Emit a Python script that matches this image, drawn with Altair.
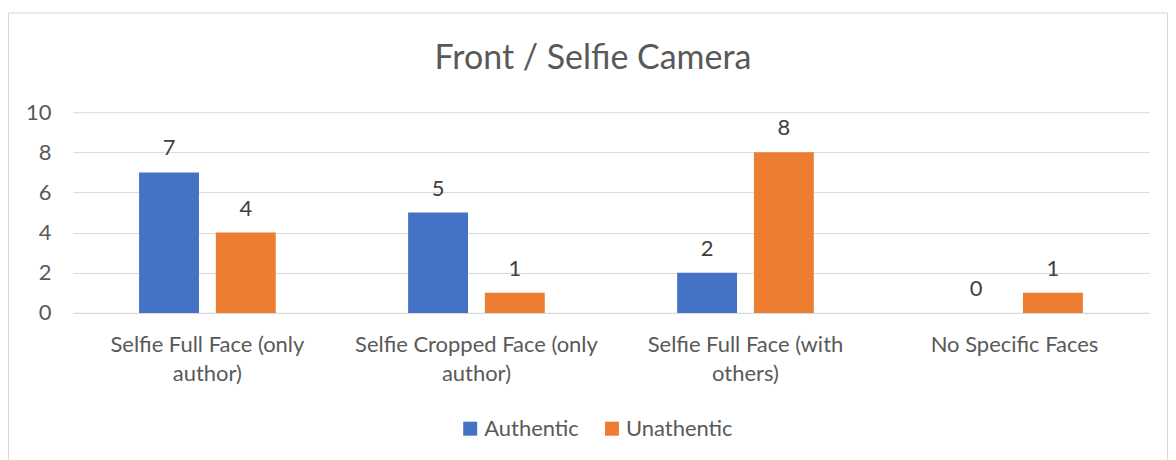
import altair as alt
import pandas as pd

categories = [
    "Selfie Full Face (only author)",
    "Selfie Cropped Face (only author)",
    "Selfie Full Face (with others)",
    "No Specific Faces",
]
label_lines = [
    ["Selfie Full Face (only", "author)"],
    ["Selfie Cropped Face (only", "author)"],
    ["Selfie Full Face (with", "others)"],
    ["No Specific Faces"],
]
series = ["Authentic", "Unathentic"]
authentic = [7, 5, 2, 0]
unathentic = [4, 1, 8, 1]
colors = ["#4472C4", "#ED7D31"]
y_ticks = [0, 2, 4, 6, 8, 10]

rows = []
for c, a, u in zip(categories, authentic, unathentic):
    rows.append({"category": c, "series": series[0], "value": a})
    rows.append({"category": c, "series": series[1], "value": u})
df = pd.DataFrame(rows)

# multi-line label expression
expr = "''"
for c, lines in reversed(list(zip(categories, label_lines))):
    arr = "[" + ",".join("'" + l + "'" for l in lines) + "]"
    expr = f"datum.value == '{c}' ? {arr} : ({expr})"

FONT = "Lato"
TXT = "#595959"

x_enc = alt.X(
    "category:N",
    sort=categories,
    title=None,
    scale=alt.Scale(paddingInner=0.492, paddingOuter=0.246),
    axis=alt.Axis(
        labelExpr=expr,
        labelAngle=0,
        labelFont=FONT,
        labelFontSize=22,
        labelColor=TXT,
        labelLineHeight=29,
        labelPadding=22,
        ticks=False,
        domainColor="#D9D9D9",
        domainWidth=1,
        labelLimit=400,
    ),
)
y_enc = alt.Y(
    "value:Q",
    title=None,
    scale=alt.Scale(domain=[0, 10], nice=False),
    axis=alt.Axis(
        values=y_ticks,
        domain=False,
        ticks=False,
        labelFont=FONT,
        labelFontSize=22,
        labelColor=TXT,
        labelPadding=22,
        gridColor="#D9D9D9",
        gridWidth=1,
    ),
)
xoff = alt.XOffset(
    "series:N", sort=series, scale=alt.Scale(paddingInner=0.22, paddingOuter=0)
)

bars = alt.Chart(df).mark_bar().encode(
    x=x_enc,
    y=y_enc,
    xOffset=xoff,
    color=alt.Color(
        "series:N",
        sort=series,
        scale=alt.Scale(domain=series, range=colors),
        legend=alt.Legend(
            title=None,
            orient="none",
            direction="horizontal",
            legendX=387,
            legendY=306,
            symbolType="square",
            symbolSize=196,
            symbolStrokeWidth=0,
            labelFont=FONT,
            labelFontSize=22,
            labelColor=TXT,
            columnPadding=22,
            labelOffset=3,
        ),
    ),
)

labels = alt.Chart(df).mark_text(
    baseline="alphabetic", dy=-17, font=FONT, fontSize=22, color="#404040"
).encode(
    x=alt.X("category:N", sort=categories),
    y=alt.Y("value:Q"),
    xOffset=xoff,
    text=alt.Text("value:Q"),
)

border = alt.Chart(pd.DataFrame({"k": [0]})).mark_rect(
    fill=None, stroke="#D9D9D9", strokeWidth=1
).encode(
    x=alt.value(-64.5), x2=alt.value(1096.5), y=alt.value(-99.5), y2=alt.value(360)
)

chart = alt.layer(border, bars, labels).properties(
    width=1078,
    height=201,
    padding={"left": 0, "top": 4, "right": 0, "bottom": 0},
    title=alt.TitleParams(
        "Front / Selfie Camera",
        font=FONT,
        fontSize=34,
        fontWeight="normal",
        color=TXT,
        anchor="middle",
        frame="group",
        offset=-64,
        dx=-18,
    ),
).configure_view(stroke=None)

chart.save("out.html", embed_options={"renderer": "svg", "actions": False})
